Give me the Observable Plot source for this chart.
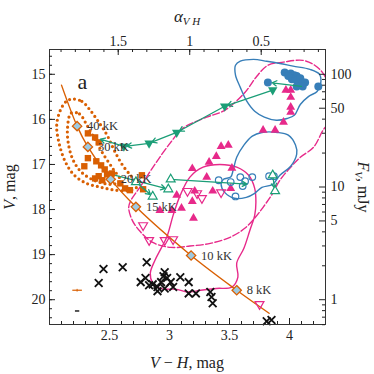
<!DOCTYPE html>
<html><head><meta charset="utf-8">
<script src="https://cdn.jsdelivr.net/npm/d3@7"></script>
<script src="https://cdn.jsdelivr.net/npm/@observablehq/plot@0.6"></script>
<style>body{margin:0;background:#fff} svg{display:block}</style>
</head><body><div id="chart"></div>
<script>
// ---- data: [V-H, V] ----
const trackLine = [[2.10,15.24],[2.23,16.15],[2.32,16.61],[2.51,17.33],[2.72,17.94],[3.18,19.02],[3.56,19.79],[3.83,20.30]];
const tempVH = [2.23,2.32,2.51,2.72,3.18,3.56];
const tempV = [16.15,16.61,17.33,17.94,19.02,19.79];
const tempLabels = ["40 kK","30 kK","20 kK","15 kK","10 kK","8 kK"];

const orangeSquares = [[2.32,16.31],[2.38,16.40],[2.41,16.51],[2.32,16.86],[2.29,17.04],[2.39,16.93],[2.43,17.02],[2.46,17.11],[2.41,17.26],[2.48,17.22],[2.52,17.20],[2.44,17.35],[2.38,17.31],[2.59,17.42],[2.63,17.53],[2.67,17.57],[2.77,17.24],[2.78,17.55],[2.51,17.31]];
const orangeOuter = [[2.19,15.55],[2.27,15.60],[2.34,15.80],[2.41,16.06],[2.48,16.35],[2.54,16.69],[2.61,17.02],[2.69,17.29],[2.74,17.46],[2.68,17.57],[2.55,17.57],[2.42,17.50],[2.30,17.41],[2.20,17.22],[2.13,16.93],[2.08,16.53],[2.06,16.13],[2.09,15.80],[2.14,15.60]];
const orangeInner = [[2.18,15.86],[2.25,15.88],[2.31,16.12],[2.38,16.45],[2.45,16.78],[2.53,17.10],[2.59,17.36],[2.52,17.44],[2.38,17.36],[2.27,17.18],[2.20,16.92],[2.16,16.58],[2.15,16.20]];

const blueDots = [[3.82,15.18],[3.96,14.96],[4.01,14.98],[4.04,15.02],[4.06,15.04],[4.02,15.11],[4.06,15.13],[4.09,15.09],[4.11,15.18],[4.13,15.18],[4.06,15.27],[4.11,15.27],[4.24,15.27],[3.99,15.04]];
const blueOpen = [[3.41,17.35],[3.51,17.39],[3.59,17.28],[3.63,17.37],[3.69,17.28],[3.61,17.48],[3.55,17.71],[3.83,17.26],[3.87,17.26]];
const blueTop = [[3.55,14.80],[3.59,14.71],[3.70,14.67],[3.81,14.71],[3.92,14.76],[4.03,14.82],[4.17,14.89],[4.25,15.00],[4.26,15.20],[4.23,15.38],[4.16,15.49],[4.09,15.67],[4.04,15.91],[3.98,15.98],[3.89,16.02],[3.79,15.95],[3.71,15.82],[3.64,15.58],[3.59,15.29],[3.55,15.02]];
const blueBottom = [[3.53,17.13],[3.56,16.84],[3.62,16.57],[3.69,16.37],[3.77,16.29],[3.90,16.29],[3.99,16.35],[4.05,16.57],[4.06,16.77],[4.01,17.04],[3.92,17.24],[3.86,17.44],[3.77,17.51],[3.71,17.64],[3.64,17.73],[3.54,17.75],[3.46,17.62],[3.43,17.44],[3.45,17.33],[3.51,17.28]];

const pinkUp = [[3.97,15.35],[4.01,15.35],[4.01,15.51],[4.01,15.73],[4.01,15.84],[3.95,16.06],[3.78,16.24],[3.88,16.24],[3.43,16.60],[3.49,16.57],[3.39,16.82],[3.33,16.95],[3.19,17.09],[3.52,17.08],[3.31,17.28],[3.51,17.53],[3.36,17.59],[3.21,17.59],[3.06,17.68],[3.19,17.82],[2.92,18.02],[3.02,18.02],[3.10,17.97],[3.20,18.19]];
const pinkDownOpen = [[2.78,18.35],[2.83,18.68],[2.96,18.68],[3.03,18.66],[3.15,17.59],[3.23,17.64],[3.27,17.75],[3.43,17.62],[3.75,20.10]];
const pinkSolid = [[3.28,17.06],[3.42,17.00],[3.56,17.06],[3.66,17.24],[3.71,17.53],[3.72,17.84],[3.71,18.13],[3.67,18.46],[3.62,18.86],[3.56,19.19],[3.57,19.50],[3.52,19.72],[3.39,19.75],[3.26,19.79],[3.15,19.83],[3.06,19.77],[2.92,19.75],[2.86,19.63],[2.84,19.41],[2.88,19.12],[2.93,18.86],[2.98,18.59],[3.03,18.13],[3.09,17.68],[3.17,17.28]];
const pinkDashed = [[2.68,17.79],[2.76,17.48],[2.88,16.99],[3.01,16.51],[3.11,16.20],[3.31,15.95],[3.46,15.80],[3.63,15.40],[3.72,15.07],[3.82,14.80],[3.95,14.73],[4.11,14.69],[4.21,14.80],[4.28,14.98],[4.36,15.47],[4.37,15.91],[4.28,16.24],[4.20,16.62],[4.09,16.84],[4.01,17.06],[3.92,17.35],[3.86,17.64],[3.78,17.95],[3.71,18.19],[3.63,18.41],[3.51,18.61],[3.34,18.75],[3.17,18.81],[3.01,18.84],[2.86,18.73],[2.76,18.50],[2.69,18.24],[2.66,17.95]];

const greenFilled = [[3.86,15.35],[3.46,15.71],[3.06,16.29],[2.83,16.53],[2.62,16.60]];
const greenFilledArrows = [[4.10,15.27,3.83,15.18],[3.86,15.35,3.46,15.71],[3.46,15.71,3.06,16.29],[3.06,16.29,2.83,16.53],[2.83,16.53,2.62,16.60],[2.62,16.60,2.40,16.42]];
const greenOpen = [[2.72,17.39],[2.86,17.71],[3.01,17.33],[2.99,17.55],[3.86,17.24],[3.88,17.59]];
const greenOpenArrows = [[2.55,17.24,2.99,17.55],[2.72,17.39,2.86,17.71],[3.01,17.33,3.67,17.44],[3.86,17.24,3.88,17.59]];

const crosses = [[2.45,19.32],[2.61,19.28],[2.81,19.17],[2.41,19.63],[2.76,19.61],[2.80,19.52],[2.83,19.68],[2.86,19.66],[2.90,19.72],[2.93,19.61],[2.95,19.48],[2.96,19.39],[2.98,19.52],[2.96,19.75],[3.01,19.61],[3.03,19.72],[3.09,19.50],[3.16,19.61],[3.16,19.86],[3.22,19.86],[3.34,19.83],[3.35,19.94],[3.36,20.08],[2.90,19.81],[3.81,20.48],[3.85,20.45]];

const errOrange = [2.23, 19.79, 0.04, 0.03];
const errBlack = [2.23, 20.25, 0.018, 0];

// axes
const xDomain = [2.0, 4.3];
const yDomain = [14.45, 20.55];
const xMajor = [2.5,3,3.5,4];
const xMinor = d3.range(21,43).map(d=>d/10);
const yMajor = [15,16,17,18,19,20];
const yMinor = d3.range(73,103).map(d=>d/5);
const alphaMajor = [1.5,1,0.5];
const alphaMinor = d3.range(1,20).map(d=>d/10);
const fluxMajor = [100,50,10,5,1];
const fluxMinor = [0.6,0.7,0.8,0.9,2,3,4,6,7,8,9,20,30,40,60,70,80,90];

const a2vh = a => 4.36 - 1.1915*a;
const vh2a = vh => +((4.36 - vh)/1.1915).toFixed(1);
const f2v = f => 15 - 2.5*Math.log10(f/100);
const v2f = v => +(100*Math.pow(10,-0.4*(v-15))).toPrecision(2);

const W = 374, H = 374, ML = 49, MR = 49, MT = 49, MB = 50;
const pxX = (W-ML-MR)/(xDomain[1]-xDomain[0]);
const pxY = (H-MT-MB)/(yDomain[1]-yDomain[0]);
const tx = len => len/pxX, ty = len => len/pxY;

const triDown = {draw(ctx, size){ const y = -Math.sqrt(size/(Math.sqrt(3)*3)); ctx.moveTo(0,-2*y); ctx.lineTo(-Math.sqrt(3)*y, y); ctx.lineTo(Math.sqrt(3)*y, y); ctx.closePath(); }};

const ORANGE="#d95f02", GREEN="#1b9e77", PINK="#e7298a", BLUE="#377eb8", LBLUE="#9ecae1", INK="#222";
const FONT = "Liberation Serif";
const X = d=>d[0], Y = d=>d[1];

function ticksX(vals, yEdge, dir, len) {
  return Plot.ruleX(vals, {x: d=>d, y1: yEdge, y2: yEdge + dir*ty(len), stroke: "#222", strokeWidth: 1});
}
function ticksY(vals, xEdge, dir, len) {
  return Plot.ruleY(vals, {y: d=>d, x1: xEdge, x2: xEdge + dir*tx(len), stroke: "#222", strokeWidth: 1});
}

const plot = Plot.plot({
  width: W, height: H,
  marginLeft: ML, marginRight: MR, marginTop: MT, marginBottom: MB,
  x: {domain: xDomain},
  y: {domain: yDomain, reverse: true},
  style: {fontFamily: FONT, fontSize: "14px", color: INK, background: "#fff"},
  marks: [
    // contours
    Plot.line(orangeOuter, {x: X, y: Y, curve: "catmull-rom-closed", stroke: ORANGE, strokeWidth: 3.2, strokeDasharray: "0,5", strokeLinecap: "round"}),
    Plot.line(orangeInner, {x: X, y: Y, curve: "catmull-rom-closed", stroke: ORANGE, strokeWidth: 3.2, strokeDasharray: "0,5", strokeLinecap: "round"}),
    Plot.line(pinkDashed, {x: X, y: Y, curve: "catmull-rom-closed", stroke: PINK, strokeWidth: 1.4, strokeDasharray: "7,2.5", clip: true}),
    Plot.line(pinkSolid, {x: X, y: Y, curve: "catmull-rom-closed", stroke: PINK, strokeWidth: 1.4}),
    Plot.line(blueTop, {x: X, y: Y, curve: "catmull-rom-closed", stroke: BLUE, strokeWidth: 1.4}),
    Plot.line(blueBottom, {x: X, y: Y, curve: "catmull-rom-closed", stroke: BLUE, strokeWidth: 1.4}),
    // track
    Plot.line(trackLine, {x: X, y: Y, curve: "catmull-rom", stroke: ORANGE, strokeWidth: 1.4}),
    // points
    Plot.dot(crosses, {x: X, y: Y, symbol: "times", r: 3.6, stroke: "#111", strokeWidth: 1.8}),
    Plot.dot(orangeSquares, {x: X, y: Y, symbol: "square", r: 3.6, fill: ORANGE}),
    Plot.dot(pinkUp, {x: X, y: Y, symbol: "triangle", r: 3.3, fill: PINK}),
    Plot.dot(pinkDownOpen, {x: X, y: Y, symbol: triDown, r: 3.3, stroke: PINK, strokeWidth: 1.2, fill: "none"}),
    Plot.dot(blueDots, {x: X, y: Y, r: 4, fill: BLUE}),
    Plot.dot(blueOpen, {x: X, y: Y, r: 3.3, stroke: BLUE, strokeWidth: 1.2, fill: "none"}),
    Plot.arrow(greenFilledArrows, {x1: d=>d[0], y1: d=>d[1], x2: d=>d[2], y2: d=>d[3], stroke: GREEN, strokeWidth: 1.3, headLength: 6, insetEnd: 3}),
    Plot.arrow(greenOpenArrows, {x1: d=>d[0], y1: d=>d[1], x2: d=>d[2], y2: d=>d[3], stroke: GREEN, strokeWidth: 1.3, headLength: 6, insetEnd: 3}),
    Plot.dot(greenFilled, {x: X, y: Y, symbol: triDown, r: 3.5, fill: GREEN}),
    Plot.dot(greenOpen, {x: X, y: Y, symbol: "triangle", r: 3.3, stroke: GREEN, strokeWidth: 1.2, fill: "white"}),
    // temperature diamonds
    Plot.dot(tempVH, {x: d=>d, y: (d,i)=>tempV[i], symbol: "diamond2", r: 4.2, fill: LBLUE, stroke: ORANGE, strokeWidth: 1.3}),
    Plot.text(tempVH, {x: d=>d, y: (d,i)=>tempV[i], text: (d,i)=>tempLabels[i], dx: 10, textAnchor: "start", fontSize: 12.5, fontFamily: FONT, fill: "#333"}),
    // typical errors
    Plot.link([errOrange], {x1: d=>d[0]-d[2], x2: d=>d[0]+d[2], y1: d=>d[1], y2: d=>d[1], stroke: ORANGE, strokeWidth: 1.2}),
    Plot.link([errOrange], {x1: d=>d[0], x2: d=>d[0], y1: d=>d[1]-d[3], y2: d=>d[1]+d[3], stroke: ORANGE, strokeWidth: 1}),
    Plot.link([errBlack], {x1: d=>d[0]-d[2], x2: d=>d[0]+d[2], y1: d=>d[1], y2: d=>d[1], stroke: "#111", strokeWidth: 1.4}),
    Plot.text(["a"], {frameAnchor: "top-left", dx: 28, dy: 24, fontSize: 22, fontFamily: FONT, fill: INK}),
    // frame & ticks (inward)
    Plot.frame({stroke: "#333", strokeWidth: 1}),
    ticksX(xMajor, yDomain[1], -1, 6), ticksX(xMinor, yDomain[1], -1, 3),
    ticksX(alphaMajor.map(a2vh), yDomain[0], 1, 6), ticksX(alphaMinor.map(a2vh), yDomain[0], 1, 3),
    ticksY(yMajor, xDomain[0], 1, 6), ticksY(yMinor, xDomain[0], 1, 3),
    ticksY(fluxMajor.map(f2v), xDomain[1], -1, 6), ticksY(fluxMinor.map(f2v), xDomain[1], -1, 3),
    // tick labels
    Plot.axisX(xMajor, {anchor: "bottom", tickSize: 0, tickPadding: 6, tickFormat: d => String(d), label: null, fontSize: 14, fontFamily: FONT}),
    Plot.axisX(alphaMajor.map(a2vh), {anchor: "top", tickSize: 0, tickPadding: 4, tickFormat: d => String(vh2a(d)), label: null, fontSize: 14, fontFamily: FONT}),
    Plot.axisY(yMajor, {anchor: "left", tickSize: 0, tickPadding: 4, tickFormat: d => String(d), label: null, fontSize: 14, fontFamily: FONT}),
    Plot.axisY(fluxMajor.map(f2v), {anchor: "right", tickSize: 0, tickPadding: 5, tickFormat: d => String(v2f(d)), label: null, fontSize: 14, fontFamily: FONT})
  ]
});

const svg = d3.select(plot);
// bottom title
let t = svg.append("text").attr("x", 187).attr("y", 368).attr("text-anchor", "middle").attr("font-family", FONT).attr("font-size", 16).attr("fill", INK);
t.append("tspan").attr("font-style", "italic").text("V");
t.append("tspan").text(" \u2212 ");
t.append("tspan").attr("font-style", "italic").text("H");
t.append("tspan").text(", mag");
// left title
t = svg.append("text").attr("transform", "translate(15,187) rotate(-90)").attr("text-anchor", "middle").attr("font-family", FONT).attr("font-size", 16).attr("fill", INK);
t.append("tspan").attr("font-style", "italic").text("V");
t.append("tspan").text(", mag");
// right title
t = svg.append("text").attr("transform", "translate(358,187) rotate(90)").attr("text-anchor", "middle").attr("font-family", FONT).attr("font-size", 16).attr("fill", INK);
t.append("tspan").attr("font-style", "italic").text("F");
t.append("tspan").attr("font-style", "italic").attr("font-size", 11).attr("dy", 3).text("V");
t.append("tspan").attr("dy", -3).text(", mJy");
// top title
t = svg.append("text").attr("x", 187).attr("y", 22).attr("text-anchor", "middle").attr("font-family", FONT).attr("font-size", 17).attr("fill", INK);
t.append("tspan").attr("font-style", "italic").text("\u03b1");
t.append("tspan").attr("font-style", "italic").attr("font-size", 11).attr("dy", 3).text("V H");

document.getElementById("chart").appendChild(plot);
</script>
</body></html>
